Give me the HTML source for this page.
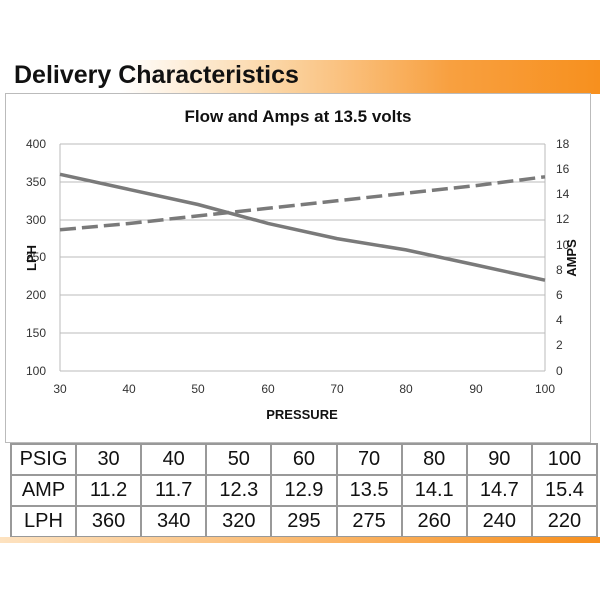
<!DOCTYPE html>
<html><head><style>
body{margin:0;width:600px;height:600px;background:#fff;position:relative;overflow:hidden;font-family:"Liberation Sans",Arial,sans-serif}
.hdr{position:absolute;left:0;top:60px;width:600px;height:34px;background:linear-gradient(90deg,#fff 0%,#fff 20%,#fbd7a8 45%,#f8a040 75%,#f7901e 100%)}
.hdr span{position:absolute;left:14px;top:1px;font-size:25px;font-weight:bold;color:#111}
.box{position:absolute;left:5px;top:93px;width:586px;height:350px;border:1px solid #bbb;background:#fff;box-sizing:border-box}
table{position:absolute;left:10px;top:443px;width:588px;border-collapse:collapse;background:#fff;table-layout:fixed}
td{border:2px solid #999;height:29px;padding:0;text-align:center;font-size:20px;color:#111}
.bot{position:absolute;left:0;top:537px;width:600px;height:6px;background:linear-gradient(90deg,#fde2c0,#f7901e)}
</style></head><body>
<div class="hdr"><span>Delivery Characteristics</span></div>
<div class="box"></div>
<svg style="position:absolute;left:0;top:0" width="600" height="600" font-family="Liberation Sans,Arial,sans-serif">
<text x="298" y="122" text-anchor="middle" font-size="17" font-weight="bold" fill="#111">Flow and Amps at 13.5 volts</text>
<g stroke="#bbb" stroke-width="1">
<line x1="60" y1="144" x2="545" y2="144"/><line x1="60" y1="182" x2="545" y2="182"/><line x1="60" y1="220" x2="545" y2="220"/><line x1="60" y1="257" x2="545" y2="257"/><line x1="60" y1="295" x2="545" y2="295"/><line x1="60" y1="333" x2="545" y2="333"/><line x1="60" y1="371" x2="545" y2="371"/>
<line x1="60" y1="144" x2="60" y2="371"/><line x1="545" y1="144" x2="545" y2="371"/>
</g>
<g font-size="12" fill="#333" text-anchor="end">
<text x="46" y="148">400</text><text x="46" y="186">350</text><text x="46" y="224">300</text><text x="46" y="261">250</text><text x="46" y="299">200</text><text x="46" y="337">150</text><text x="46" y="375">100</text>
</g>
<g font-size="12" fill="#333">
<text x="556" y="148">18</text><text x="556" y="173">16</text><text x="556" y="198">14</text><text x="556" y="223">12</text><text x="556" y="249">10</text><text x="556" y="274">8</text><text x="556" y="299">6</text><text x="556" y="324">4</text><text x="556" y="349">2</text><text x="556" y="375">0</text>
</g>
<g font-size="12" fill="#333" text-anchor="middle">
<text x="60" y="393">30</text><text x="129" y="393">40</text><text x="198" y="393">50</text><text x="268" y="393">60</text><text x="337" y="393">70</text><text x="406" y="393">80</text><text x="476" y="393">90</text><text x="545" y="393">100</text>
</g>
<text x="302" y="419" text-anchor="middle" font-size="13" font-weight="bold" fill="#111">PRESSURE</text>
<text transform="translate(36,258) rotate(-90)" text-anchor="middle" font-size="13" font-weight="bold" fill="#111">LPH</text>
<text transform="translate(576,258) rotate(-90)" text-anchor="middle" font-size="13" font-weight="bold" fill="#111">AMPS</text>
<polyline fill="none" stroke="#7a7a7a" stroke-width="3.5" points="60,174.3 129,189.4 198,204.5 268,223.4 337,238.6 406,249.9 476,265.0 545,280.2"/>
<polyline fill="none" stroke="#7a7a7a" stroke-width="3.5" stroke-dasharray="16,6" points="60,229.8 129,223.5 198,215.9 268,208.3 337,200.8 406,193.2 476,185.6 545,176.8"/>
</svg>
<table>
<colgroup><col style="width:65px"><col><col><col><col><col><col><col><col></colgroup>
<tr><td>PSIG</td><td>30</td><td>40</td><td>50</td><td>60</td><td>70</td><td>80</td><td>90</td><td>100</td></tr>
<tr><td>AMP</td><td>11.2</td><td>11.7</td><td>12.3</td><td>12.9</td><td>13.5</td><td>14.1</td><td>14.7</td><td>15.4</td></tr>
<tr><td>LPH</td><td>360</td><td>340</td><td>320</td><td>295</td><td>275</td><td>260</td><td>240</td><td>220</td></tr>
</table>
<div class="bot"></div>
</body></html>
